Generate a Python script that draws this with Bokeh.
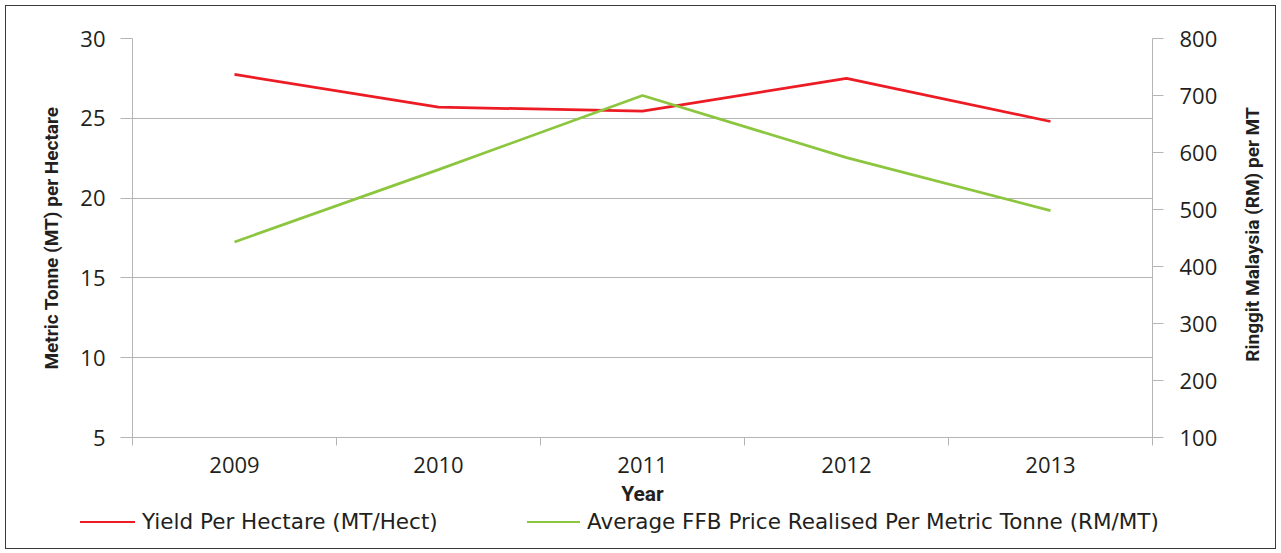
import math
from bokeh.plotting import figure
from bokeh.layouts import column
from bokeh.models import (Range1d, LinearAxis, FixedTicker, CustomJSTickFormatter,
                          Grid, Label, Div)
from bokeh.embed import file_html
from bokeh.resources import INLINE

# ---- data ----
years = ["2009", "2010", "2011", "2012", "2013"]
yield_per_hectare = [27.75, 25.7, 25.45, 27.5, 24.8]      # MT/Hect (left axis)
ffb_price = [443, 570, 700, 591, 498]                       # RM/MT (right axis)
left_ticks = [5, 10, 15, 20, 25, 30]
right_ticks = [100, 200, 300, 400, 500, 600, 700, 800]
series_names = ["Yield Per Hectare (MT/Hect)",
                "Average FFB Price Realised Per Metric Tonne (RM/MT)"]
axis_titles = ["Year", "Metric Tonne (MT) per Hectare", "Ringgit Malaysia (RM) per MT"]

RED = "#ed1c24"
GREEN = "#8cc63f"
GRAY = "#b5b5b5"
TXT = "#231f20"
TITLE_FONT = "Roboto"

W = 1273
H1, H2 = 510, 35
FRAME_L, FRAME_R, FRAME_T, FRAME_B = 132, 1152, 38, 437
xs = list(range(len(years)))

x_range = Range1d(-0.5, len(years) - 0.5)
y_range = Range1d(left_ticks[0], left_ticks[-1])
p = figure(width=W, height=H1, output_backend="svg", toolbar_location=None,
           x_range=x_range, y_range=y_range,
           x_axis_type=None, y_axis_type=None,
           min_border_left=FRAME_L, min_border_right=W - FRAME_R,
           min_border_top=FRAME_T, min_border_bottom=H1 - FRAME_B)
p.extra_y_ranges = {"right": Range1d(right_ticks[0], right_ticks[-1])}
p.outline_line_color = None
p.background_fill_color = "white"
p.border_fill_color = "white"

grid = Grid(dimension=1, ticker=FixedTicker(ticks=left_ticks),
            grid_line_color=GRAY, grid_line_width=1)
p.add_layout(grid)

red = p.line(xs, yield_per_hectare, line_color=RED, line_width=2.75)
green = p.line(xs, ffb_price, y_range_name="right", line_color=GREEN, line_width=2.75)

def style(ax, title_size):
    ax.axis_line_color = GRAY
    ax.major_tick_line_color = GRAY
    ax.minor_tick_line_color = GRAY
    ax.major_label_text_font = "Open Sans"
    ax.major_label_text_font_size = "22px"
    ax.major_label_text_color = TXT
    ax.axis_label_text_font = TITLE_FONT
    ax.axis_label_text_font_style = "bold"
    ax.axis_label_text_font_size = title_size
    ax.axis_label_text_color = TXT

xaxis = LinearAxis(
    ticker=FixedTicker(ticks=xs, minor_ticks=[i - 0.5 for i in range(len(years) + 1)]),
    formatter=CustomJSTickFormatter(args=dict(labels=years),
                                    code="const i = Math.round(tick); return (i >= 0 && i < labels.length) ? labels[i] : '';"),
    axis_label=axis_titles[0])
style(xaxis, "21px")
xaxis.major_tick_out = 0
xaxis.major_tick_in = 0
xaxis.minor_tick_out = 8
xaxis.minor_tick_in = 0
xaxis.major_label_standoff = 11
xaxis.axis_label_standoff = 6
p.add_layout(xaxis, "below")

laxis = LinearAxis(ticker=FixedTicker(ticks=left_ticks), axis_label=axis_titles[1])
style(laxis, "19px")
laxis.major_tick_out = 12
laxis.major_tick_in = 0
laxis.minor_tick_line_color = None
laxis.major_label_standoff = 15
laxis.axis_label_standoff = 14
p.add_layout(laxis, "left")

raxis = LinearAxis(y_range_name="right", ticker=FixedTicker(ticks=right_ticks))
style(raxis, "19px")
raxis.major_tick_out = 11
raxis.major_tick_in = 0
raxis.minor_tick_line_color = None
raxis.major_label_standoff = 16
p.add_layout(raxis, "right")

# right-hand axis title, reading bottom-to-top like the left one
def px_to_x(px):
    return x_range.start + (px - FRAME_L) / (FRAME_R - FRAME_L) * (x_range.end - x_range.start)

def px_to_y(py):
    return y_range.end - (py - FRAME_T) / (FRAME_B - FRAME_T) * (y_range.end - y_range.start)

rtitle = Label(x=px_to_x(1252), y=px_to_y(234), text=axis_titles[2],
               angle=math.pi / 2, text_align="center", text_baseline="middle",
               text_font=TITLE_FONT, text_font_style="bold", text_font_size="19px",
               text_color=TXT)
p.add_layout(rtitle, "right")

# ---- legend strip + outer frame ----
legend_html = f"""
<div style="position:relative;width:{W}px;height:{H2}px;font-family:'DejaVu Sans';font-size:21.5px;line-height:22px;color:{TXT};">
  <div style="position:absolute;left:80px;top:11px;width:55px;height:0;border-top:2.75px solid {RED};"></div>
  <div style="position:absolute;left:142px;top:1px;white-space:nowrap;">{series_names[0]}</div>
  <div style="position:absolute;left:527px;top:11px;width:53px;height:0;border-top:2.75px solid {GREEN};"></div>
  <div style="position:absolute;left:587px;top:1px;white-space:nowrap;">{series_names[1]}</div>
  <div style="position:absolute;left:5px;top:{5 - H1}px;width:1271px;height:544px;box-sizing:border-box;border:1.5px solid #3a3a3a;pointer-events:none;"></div>
</div>
"""
legend_div = Div(text=legend_html, width=W, height=H2, margin=0)

layout = column(p, legend_div, spacing=0)

open("out.html", "w").write(file_html(layout, INLINE))
